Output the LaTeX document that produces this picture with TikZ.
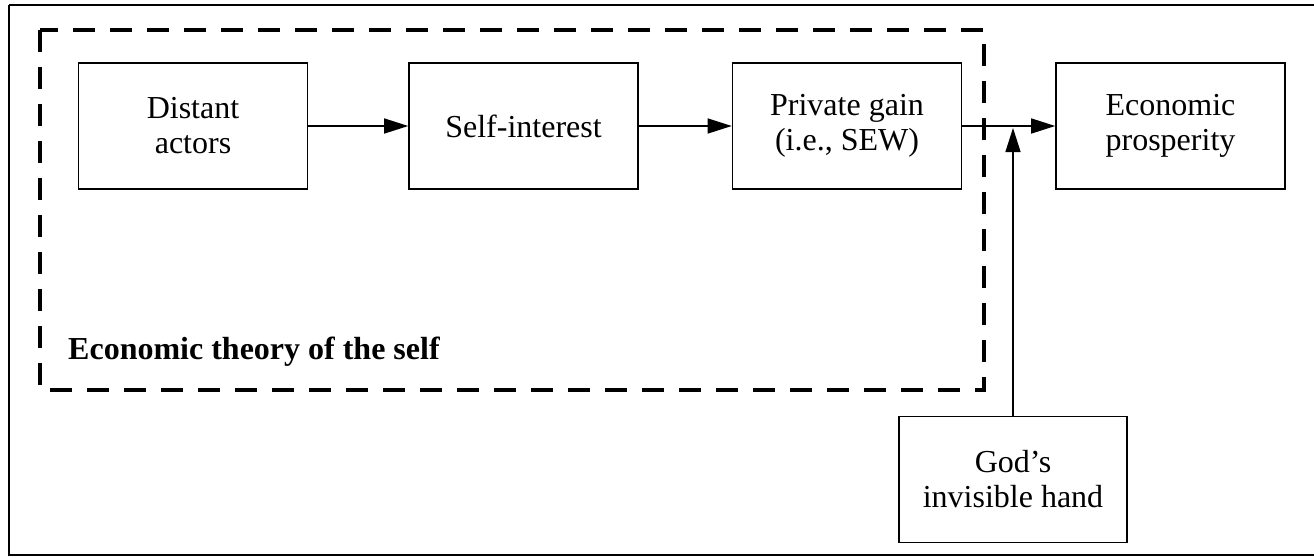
\documentclass[tikz,border=0pt]{standalone}
\usepackage{fontspec}
\setmainfont{Liberation Serif}
\usetikzlibrary{arrows.meta}
\begin{document}
\begin{tikzpicture}[x=1pt,y=-1pt,
  box/.style={draw,line width=1.6pt,inner sep=0pt,align=center,
    minimum width=229pt,minimum height=126pt,
    font=\fontsize{32}{35}\selectfont},
  arr/.style={line width=1.4pt,-{Triangle[length=24pt,width=15pt]}},
  frame/.style={line width=4.5pt,dash pattern=on 22pt off 15pt},
  lbl/.style={inner sep=0pt,anchor=west,font=\fontsize{32}{35}\selectfont\bfseries}]
\useasboundingbox (0,0) rectangle (1314,557);
\draw[line width=2pt] (9,5) -- (1320,5) (9,5) -- (9,555) -- (1320,555);
\draw[frame] (40,30) rectangle (984,390);
\node[box] (da) at (193,126) {Distant\\actors};
\node[box] (si) at (523.5,126) {Self-interest};
\node[box] (pg) at (847,126) {Private gain\\(i.e., SEW)};
\node[box] (ep) at (1170.5,126) {Economic\\prosperity};
\node[box,minimum width=228pt] (gh) at (1013,479.5) {God’s\\invisible hand};
\node[lbl] (th) at (68,352) {Economic theory of the self};
\coordinate (jn) at (1013,128);
\draw[arr] (da) -- (si);
\draw[arr] (si) -- (pg);
\draw[arr] (pg) -- (ep);
\draw[arr] (gh.north) -- (jn);
\end{tikzpicture}
\end{document}
